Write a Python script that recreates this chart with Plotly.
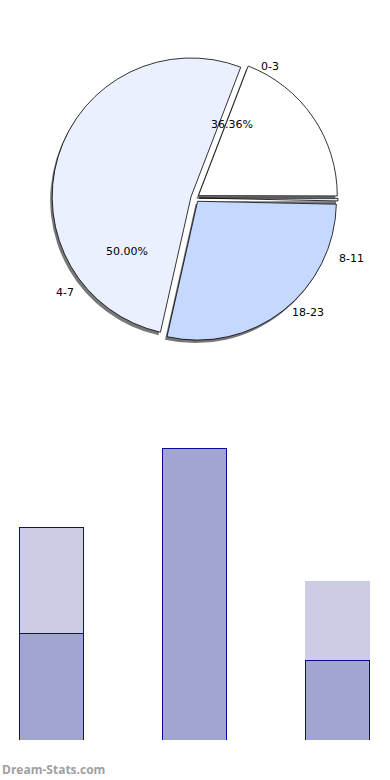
import plotly.graph_objects as go

# ---- pie data (slice shares as drawn) ----
pie_labels = ["0-3", "4-7", "18-23", "8-11"]
pie_values = [19.2, 52.3, 28.2, 0.3]
pie_colors = ["#FFFFFF", "#EAF0FF", "#C5D8FF", "#DCE6FF"]
pie_pull = [0.03, 0.03, 0.03, 0.03]
pct_texts = ["36.36%", "50.00%"]

# ---- bar data ----
bar_cats = [0, 1, 2]
bar_dark = [4, 11, 3]
bar_light = [4, None, 3]

W, H = 390, 780

fig = go.Figure()

cx, cy, side = 195, 198, 286
def dom(cx, cy):
    return dict(x=[(cx - side / 2) / W, (cx + side / 2) / W],
                y=[(H - cy - side / 2) / H, (H - cy + side / 2) / H])

ROT = 21
# pie shadow
fig.add_trace(go.Pie(labels=pie_labels, values=pie_values, sort=False,
                     direction="counterclockwise", rotation=ROT, pull=pie_pull,
                     marker=dict(colors=["#777777"] * 4, line=dict(width=0)),
                     textinfo="none", hoverinfo="skip", domain=dom(cx - 2, cy + 3),
                     showlegend=False))
fig.add_trace(go.Pie(labels=pie_labels, values=pie_values, sort=False,
                     direction="counterclockwise", rotation=ROT, pull=pie_pull,
                     marker=dict(colors=pie_colors, line=dict(color="#000000", width=0.8)),
                     textinfo="none", domain=dom(cx, cy), showlegend=False))

# bars
fig.add_trace(go.Bar(x=bar_cats, y=bar_dark, width=0.4476,
                     marker=dict(color="#A2A5D2", line=dict(color="#0A0A9A", width=1)),
                     showlegend=False))
fig.add_trace(go.Bar(x=bar_cats, y=bar_light, width=0.4476,
                     marker=dict(color="#CCCDE4", line=dict(color="#0A0A9A", width=[1, 0, 0])),
                     showlegend=False))

fig.update_layout(
    width=W, height=H, barmode="stack",
    margin=dict(l=0, r=0, t=0, b=0),
    paper_bgcolor="white", plot_bgcolor="white",
    font=dict(family="DejaVu Sans", size=11, color="#000000"),
    xaxis=dict(domain=[19 / W, 370 / W], range=[-0.2238, 2.2273],
               showgrid=False, zeroline=False, showticklabels=False, ticks="", showline=False),
    yaxis=dict(domain=[40 / H, (H - 421.5) / H], range=[0, 12],
               showgrid=False, zeroline=False, showticklabels=False, ticks="", showline=False),
)

def ann(text, x, y, **kw):
    fig.add_annotation(text=text, x=x / W, y=1 - y / H, xref="paper", yref="paper",
                       showarrow=False, xanchor="center", yanchor="middle", **kw)

ann(pie_labels[0], 269.5, 66)
ann(pie_labels[1], 65, 292.5)
ann(pie_labels[3], 351.3, 258.3)
ann(pie_labels[2], 308, 312)
ann(pct_texts[0], 231.7, 124.5)
ann(pct_texts[1], 127, 252)
fig.add_annotation(text="<b>Dream-Stats.com</b>", x=0, y=1 - 769 / H, xref="paper", yref="paper",
                   showarrow=False, xanchor="left", yanchor="middle",
                   font=dict(family="Open Sans", size=12, color="#A0A0A0"))

fig.write_html("out.html", config={"displayModeBar": False},
               post_script="document.body.style.margin='0';")
